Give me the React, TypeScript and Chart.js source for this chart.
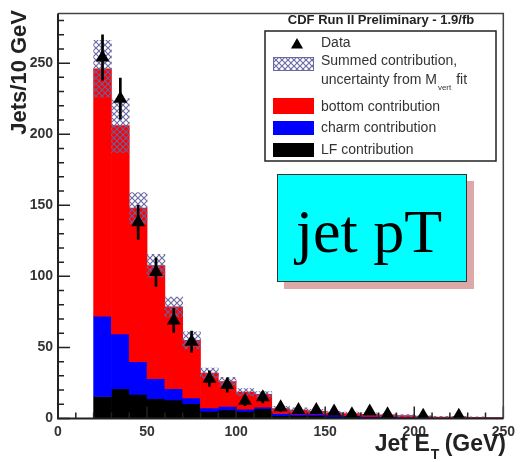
import React, { useEffect, useRef } from "react";
import { Chart, registerables } from "chart.js";

Chart.register(...registerables);

// ---- data ----
const binCenters = [25, 35, 45, 55, 65, 75, 85, 95, 105, 115, 125, 135, 145, 155, 165, 175, 185, 195, 205, 215, 225, 235, 245];
// cumulative tops of the stacked contributions
const lfTop = [15.5, 21, 17, 14, 13, 10.5, 5, 6, 5, 7, 2, 2, 2, 1.5, 1.5, 1, 1, 0.5, 0.5, 0.3, 0.3, 0.2, 0.2];
const charmTop = [72, 59.5, 40, 28, 21, 14.5, 7.5, 8.5, 6.5, 8, 3.5, 3, 3, 2.5, 2, 1.5, 1.5, 1, 1, 0.5, 0.5, 0.4, 0.3];
const bottomTop = [246, 206, 148, 107.5, 78.5, 55, 32, 26, 18.5, 17, 7, 6, 5, 4, 3.5, 3, 2.5, 2, 1.5, 1, 1, 0.8, 0.6];
const sumUncertainty = [20, 19, 11, 8, 7, 6, 3.5, 3, 2.5, 2, 1.5, 1.5, 1.5, 1, 1, 1, 1, 0.7, 0.5, 0.5, 0.5, 0.4, 0.3];
const dataValues = [254, 225, 138, 103, 69, 54, 28, 23.5, 12.5, 15, 8, 6, 6, 5, 3, 5, 3, null, 2, null, 2, null, null];
const dataErrors = [16, 14.5, 12, 10, 8.5, 7.5, 5.5, 5, 3.5, 4, 3, 2.5, 2.5, 2, 2, 2, 2, null, 1.5, null, 1.5, null, null];

const xTicks = [0, 50, 100, 150, 200, 250];
const yTicks = [0, 50, 100, 150, 200, 250];
const xRange = [0, 250];
const yRange = [0, 285];
const minorStep = 10;
const majorStep = 50;

const yTitle = "Jets/10 GeV";
const xTitleMain = "Jet E";
const xTitleSub = "T";
const xTitleTail = " (GeV)";
const legendTitle = "CDF Run II Preliminary - 1.9/fb";
const legendData = "Data";
const legendSum1 = "Summed contribution,";
const legendSum2a = "uncertainty from M";
const legendSum2sub = "vert";
const legendSum2b = " fit";
const legendBottom = "bottom contribution";
const legendCharm = "charm contribution";
const legendLF = "LF contribution";
const boxText = "jet pT";

const RED = "#ff0000";
const BLUE = "#0000ff";
const BLACK = "#000000";
const HATCH = "rgba(100,100,160,0.95)";

function makeHatch(): CanvasPattern | string {
  const c = document.createElement("canvas");
  c.width = 6;
  c.height = 6;
  const g = c.getContext("2d");
  if (!g) return HATCH;
  g.strokeStyle = HATCH;
  g.lineWidth = 1.2;
  g.beginPath();
  g.moveTo(0, 0);
  g.lineTo(6, 6);
  g.moveTo(6, 0);
  g.lineTo(0, 6);
  g.stroke();
  const p = g.createPattern(c, "repeat");
  return p || HATCH;
}

function tri(ctx: CanvasRenderingContext2D, x: number, y: number, r: number) {
  ctx.beginPath();
  for (let k = 0; k < 3; k++) {
    const a = (k * 2 * Math.PI) / 3;
    const px = x + Math.sin(a) * r;
    const py = y - Math.cos(a) * r;
    if (k === 0) ctx.moveTo(px, py);
    else ctx.lineTo(px, py);
  }
  ctx.closePath();
  ctx.fill();
}

export default function App() {
  const ref = useRef<HTMLCanvasElement | null>(null);

  useEffect(() => {
    if (!ref.current) return;
    const hatch = makeHatch();

    const decor = {
      id: "rootDecor",
      afterDraw(chart: any) {
        const { ctx, chartArea: a, scales } = chart;
        const xs = scales.x;
        const ys = scales.y;
        ctx.save();

        // inner tick marks
        ctx.strokeStyle = "#222";
        ctx.lineWidth = 1.5;
        ctx.beginPath();
        for (let v = yRange[0]; v <= yRange[1]; v += minorStep) {
          const py = ys.getPixelForValue(v);
          const len = v % majorStep === 0 ? 12 : 6;
          ctx.moveTo(a.left, py);
          ctx.lineTo(a.left + len, py);
        }
        for (let v = xRange[0]; v <= xRange[1]; v += minorStep) {
          const px = xs.getPixelForValue(v);
          const len = v % majorStep === 0 ? 12 : 6;
          ctx.moveTo(px, a.bottom);
          ctx.lineTo(px, a.bottom - len);
        }
        ctx.stroke();

        // frame
        ctx.strokeStyle = "#444";
        ctx.lineWidth = 1.5;
        ctx.beginPath();
        ctx.moveTo(a.left, a.top);
        ctx.lineTo(a.right, a.top);
        ctx.lineTo(a.right, a.bottom);
        ctx.stroke();
        ctx.strokeStyle = "#222";
        ctx.lineWidth = 2;
        ctx.beginPath();
        ctx.moveTo(a.left, a.top);
        ctx.lineTo(a.left, a.bottom);
        ctx.lineTo(a.right, a.bottom);
        ctx.stroke();

        // y title
        ctx.fillStyle = "#222";
        ctx.font = "bold 22px 'Liberation Sans', Arial, sans-serif";
        ctx.save();
        ctx.translate(20, 10);
        ctx.rotate(-Math.PI / 2);
        ctx.textAlign = "right";
        ctx.textBaseline = "middle";
        ctx.fillText(yTitle, 0, 0);
        ctx.restore();

        // x title with subscript
        const fMain = "bold 23px 'Liberation Sans', Arial, sans-serif";
        const fSub = "bold 14px 'Liberation Sans', Arial, sans-serif";
        ctx.textAlign = "left";
        ctx.textBaseline = "alphabetic";
        ctx.font = fMain;
        const w1 = ctx.measureText(xTitleMain).width;
        const w3 = ctx.measureText(xTitleTail).width;
        ctx.font = fSub;
        const w2 = ctx.measureText(xTitleSub).width;
        let sx = 506 - (w1 + w2 + w3);
        ctx.font = fMain;
        ctx.fillText(xTitleMain, sx, 451);
        sx += w1;
        ctx.font = fSub;
        ctx.fillText(xTitleSub, sx + 1, 459);
        sx += w2;
        ctx.font = fMain;
        ctx.fillText(xTitleTail, sx, 451);

        // legend
        ctx.fillStyle = "#222";
        ctx.font = "bold 13px 'Liberation Sans', Arial, sans-serif";
        ctx.textAlign = "center";
        ctx.textBaseline = "middle";
        ctx.fillText(legendTitle, 381, 20);

        ctx.fillStyle = "#fff";
        ctx.fillRect(265, 31, 231, 130);
        ctx.strokeStyle = "#222";
        ctx.lineWidth = 1.5;
        ctx.strokeRect(265, 31, 231, 130);

        ctx.fillStyle = BLACK;
        tri(ctx, 297, 45, 7);

        ctx.fillStyle = hatch as any;
        ctx.fillRect(273, 57, 41, 14);
        ctx.strokeStyle = HATCH;
        ctx.lineWidth = 1;
        ctx.strokeRect(273.5, 57.5, 40, 13);

        ctx.fillStyle = RED;
        ctx.fillRect(273, 98, 41, 16);
        ctx.fillStyle = BLUE;
        ctx.fillRect(273, 121, 41, 14);
        ctx.fillStyle = BLACK;
        ctx.fillRect(273, 143, 41, 14);

        const fLeg = "14px 'Liberation Sans', Arial, sans-serif";
        ctx.font = fLeg;
        ctx.textAlign = "left";
        ctx.fillStyle = "#333";
        ctx.fillText(legendData, 321, 43);
        ctx.fillText(legendSum1, 321, 61);
        ctx.fillText(legendSum2a, 321, 80);
        let lx = 321 + ctx.measureText(legendSum2a).width;
        ctx.font = "8px 'Liberation Sans', Arial, sans-serif";
        ctx.fillText(legendSum2sub, lx + 1, 88);
        lx += ctx.measureText(legendSum2sub).width + 2;
        ctx.font = fLeg;
        ctx.fillText(legendSum2b, lx, 80);
        ctx.fillText(legendBottom, 321, 107);
        ctx.fillText(legendCharm, 321, 128);
        ctx.fillText(legendLF, 321, 150);

        // cyan annotation box with shadow
        ctx.fillStyle = "rgb(220,168,168)";
        ctx.fillRect(284, 181, 190, 108);
        ctx.fillStyle = "#00ffff";
        ctx.fillRect(277, 174, 190, 108);
        ctx.strokeStyle = "#333";
        ctx.lineWidth = 1;
        ctx.strokeRect(277.5, 174.5, 189, 107);
        ctx.fillStyle = "#000";
        ctx.font = "62px 'Liberation Serif', 'Times New Roman', serif";
        ctx.textAlign = "center";
        ctx.textBaseline = "alphabetic";
        ctx.fillText(boxText, 369, 252);

        ctx.restore();
      },
    };

    const floating = (lo: number[] | ((i: number) => number), hi: (i: number) => number) =>
      binCenters.map((c, i) => ({ x: c, y: [typeof lo === "function" ? lo(i) : lo[i], hi(i)] }));

    const chart = new Chart(ref.current, {
      type: "bar",
      data: {
        datasets: [
          {
            type: "scatter",
            label: "Data",
            data: binCenters
              .map((c, i) => ({ x: c, y: dataValues[i] }))
              .filter((d) => d.y !== null) as any,
            pointStyle: "triangle",
            pointRadius: 8,
            pointBackgroundColor: BLACK,
            pointBorderColor: BLACK,
            pointBorderWidth: 0,
            showLine: false,
            order: 0,
          } as any,
          {
            label: "err",
            data: binCenters
              .map((c, i) => ({ c, v: dataValues[i], e: dataErrors[i] }))
              .filter((d) => d.v !== null && d.e !== null)
              .map((d) => ({ x: d.c, y: [(d.v as number) - (d.e as number), (d.v as number) + (d.e as number)] })) as any,
            backgroundColor: BLACK,
            barThickness: 2,
            grouped: false,
            borderWidth: 0,
            order: 1,
          } as any,
          {
            label: "sum",
            data: floating((i) => bottomTop[i] - sumUncertainty[i], (i) => bottomTop[i] + sumUncertainty[i]) as any,
            backgroundColor: hatch as any,
            grouped: false,
            borderWidth: 0,
            barPercentage: 1,
            categoryPercentage: 1,
            order: 2,
          } as any,
          {
            label: "bottom",
            data: floating(charmTop, (i) => bottomTop[i]) as any,
            backgroundColor: RED,
            grouped: false,
            borderWidth: 0,
            barPercentage: 1,
            categoryPercentage: 1,
            order: 3,
          } as any,
          {
            label: "charm",
            data: floating(lfTop, (i) => charmTop[i]) as any,
            backgroundColor: BLUE,
            grouped: false,
            borderWidth: 0,
            barPercentage: 1,
            categoryPercentage: 1,
            order: 4,
          } as any,
          {
            label: "LF",
            data: floating(() => 0, (i) => lfTop[i]) as any,
            backgroundColor: BLACK,
            grouped: false,
            borderWidth: 0,
            barPercentage: 1,
            categoryPercentage: 1,
            order: 5,
          } as any,
        ],
      },
      options: {
        responsive: false,
        animation: false,
        devicePixelRatio: 1,
        layout: { padding: { left: 0, right: 12, top: 4, bottom: 0 } },
        plugins: { legend: { display: false }, tooltip: { enabled: false } },
        scales: {
          x: {
            type: "linear",
            offset: false,
            min: xRange[0],
            max: xRange[1],
            grid: { display: false, drawTicks: false },
            border: { display: false },
            afterBuildTicks: (s: any) => {
              s.ticks = xTicks.map((v) => ({ value: v }));
            },
            afterFit: (s: any) => {
              s.height = 43.5;
            },
            ticks: {
              autoSkip: false,
              maxRotation: 0,
              padding: 5,
              color: "#333",
              font: { family: "'Liberation Sans', Arial, sans-serif", size: 14, weight: "bold" },
            },
          },
          y: {
            type: "linear",
            min: yRange[0],
            max: yRange[1],
            grid: { display: false, drawTicks: false },
            border: { display: false },
            afterBuildTicks: (s: any) => {
              s.ticks = yTicks.map((v) => ({ value: v }));
            },
            afterFit: (s: any) => {
              s.width = 58;
            },
            ticks: {
              padding: 5,
              color: "#333",
              font: { family: "'Liberation Sans', Arial, sans-serif", size: 14, weight: "bold" },
            },
          },
        },
      } as any,
      plugins: [decor],
    });

    return () => chart.destroy();
  }, []);

  return (
    <div style={{ position: "absolute", left: 0, top: 0, width: 520, height: 462, background: "#fff" }}>
      <canvas ref={ref} width={520} height={462} />
    </div>
  );
}
